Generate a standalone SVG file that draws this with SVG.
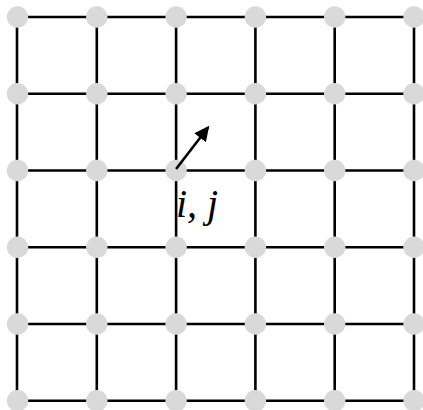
<svg xmlns="http://www.w3.org/2000/svg" width="423" height="410" viewBox="0 0 423 410">
<defs>
<style>
.g{stroke:#000;stroke-width:2.6;fill:none}
.n{fill:#d9d9d9}
.a{stroke:#000;stroke-width:2.6;fill:none}
.t{font-family:"Liberation Serif",serif;font-style:italic;font-size:40px;fill:#000}
</style>
<marker id="ah" markerWidth="6" markerHeight="6" refX="5" refY="3" orient="auto" markerUnits="strokeWidth">
<path d="M0,0.2 L5.8,3 L0,5.8 Z" fill="#000"/>
</marker>
</defs>
<rect width="423" height="410" fill="#fff"/>
<g id="connectors">
<path class="g" d="M17.5,17 H414 M17.5,93.75 H414 M17.5,170.5 H414 M17.5,247.25 H414 M17.5,324 H414 M17.5,400.75 H414"/>
<path class="g" d="M17,17 V401 M96.8,17 V401 M176.1,17 V401 M255.4,17 V401 M334.7,17 V401 M414,17 V401"/>
</g>
<g id="nodes">
<g id="r0"><circle class="n" cx="17.5" cy="17" r="10.7"/><circle class="n" cx="96.8" cy="17" r="10.7"/><circle class="n" cx="176.1" cy="17" r="10.7"/><circle class="n" cx="255.4" cy="17" r="10.7"/><circle class="n" cx="334.7" cy="17" r="10.7"/><circle class="n" cx="414" cy="17" r="10.7"/></g>
<g id="r1"><circle class="n" cx="17.5" cy="93.75" r="10.7"/><circle class="n" cx="96.8" cy="93.75" r="10.7"/><circle class="n" cx="176.1" cy="93.75" r="10.7"/><circle class="n" cx="255.4" cy="93.75" r="10.7"/><circle class="n" cx="334.7" cy="93.75" r="10.7"/><circle class="n" cx="414" cy="93.75" r="10.7"/></g>
<g id="r2"><circle class="n" cx="17.5" cy="170.5" r="10.7"/><circle class="n" cx="96.8" cy="170.5" r="10.7"/><circle class="n" cx="176.1" cy="170.5" r="10.7"/><circle class="n" cx="255.4" cy="170.5" r="10.7"/><circle class="n" cx="334.7" cy="170.5" r="10.7"/><circle class="n" cx="414" cy="170.5" r="10.7"/></g>
<g id="r3"><circle class="n" cx="17.5" cy="247.25" r="10.7"/><circle class="n" cx="96.8" cy="247.25" r="10.7"/><circle class="n" cx="176.1" cy="247.25" r="10.7"/><circle class="n" cx="255.4" cy="247.25" r="10.7"/><circle class="n" cx="334.7" cy="247.25" r="10.7"/><circle class="n" cx="414" cy="247.25" r="10.7"/></g>
<g id="r4"><circle class="n" cx="17.5" cy="324" r="10.7"/><circle class="n" cx="96.8" cy="324" r="10.7"/><circle class="n" cx="176.1" cy="324" r="10.7"/><circle class="n" cx="255.4" cy="324" r="10.7"/><circle class="n" cx="334.7" cy="324" r="10.7"/><circle class="n" cx="414" cy="324" r="10.7"/></g>
<g id="r5"><circle class="n" cx="17.5" cy="400.75" r="10.7"/><circle class="n" cx="96.8" cy="400.75" r="10.7"/><circle class="n" cx="176.1" cy="400.75" r="10.7"/><circle class="n" cx="255.4" cy="400.75" r="10.7"/><circle class="n" cx="334.7" cy="400.75" r="10.7"/><circle class="n" cx="414" cy="400.75" r="10.7"/></g>
</g>
<g id="arrow">
<path class="a" d="M176.1,169 L208,127.5" marker-end="url(#ah)"/>
</g>
<g id="label">
<text class="t" x="176" y="217">i, j</text>
</g>
</svg>
